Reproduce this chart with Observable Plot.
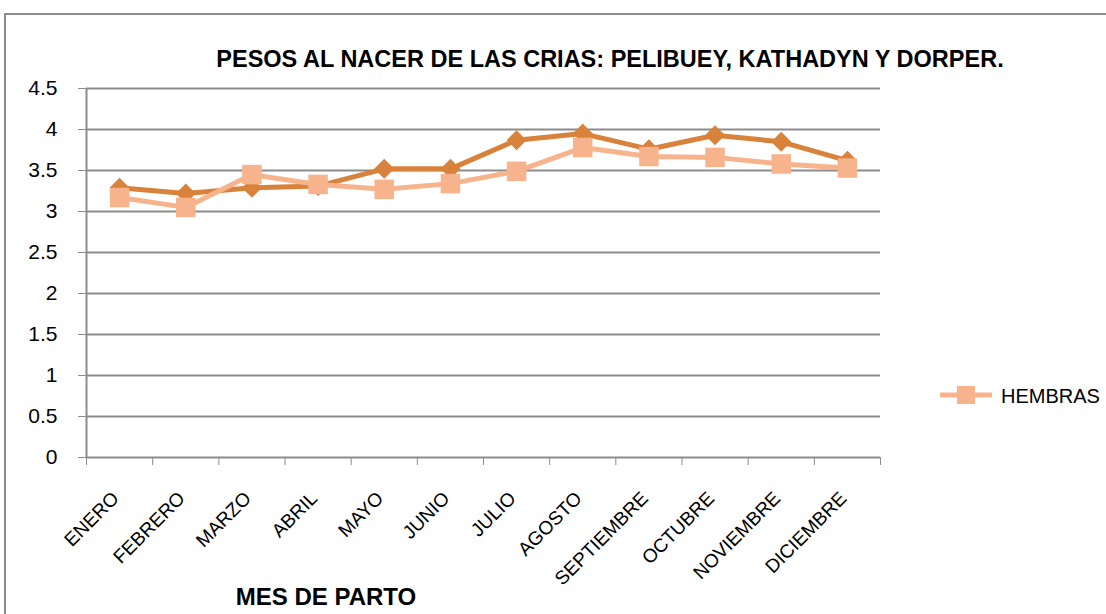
<!DOCTYPE html>
<html><head><meta charset="utf-8">
<script src="https://cdn.jsdelivr.net/npm/d3@7"></script>
<script src="https://cdn.jsdelivr.net/npm/@observablehq/plot@0.6"></script>
<style>
body{margin:0;background:#fff;}
#wrap{position:relative;width:1106px;height:614px;overflow:hidden;font-family:"Liberation Sans",Arial,sans-serif;}
#frame{position:absolute;left:4px;top:13px;width:1200px;height:700px;border:2px solid #8c8c8c;box-sizing:border-box;}
#title{position:absolute;left:0;width:1220px;top:46px;text-align:center;font-weight:bold;font-size:23.5px;color:#000;}
#xlabel{position:absolute;left:176px;width:300px;top:583px;text-align:center;font-weight:bold;font-size:24px;}
#legend{position:absolute;left:940px;top:382px;}
#chart{position:absolute;left:0;top:0;}
</style></head>
<body><div id="wrap"><div id="frame"></div><div id="chart"></div>
<div id="title">PESOS AL NACER DE LAS CRIAS: PELIBUEY, KATHADYN Y DORPER.</div>
<div id="xlabel">MES DE PARTO</div>
<div id="legend"></div></div>
<script>
const months = ["ENERO","FEBRERO","MARZO","ABRIL","MAYO","JUNIO","JULIO","AGOSTO","SEPTIEMBRE","OCTUBRE","NOVIEMBRE","DICIEMBRE"];
const machos = [3.29,3.22,3.29,3.31,3.52,3.52,3.87,3.95,3.76,3.93,3.85,3.62];
const hembras = [3.17,3.05,3.45,3.33,3.27,3.34,3.49,3.78,3.67,3.66,3.58,3.53];
const yTicks = [0,0.5,1,1.5,2,2.5,3,3.5,4,4.5];
const darkColor = "#d9823b", lightColor = "#f7b48c";

const dataM = months.map((m,i)=>({i, v: machos[i]}));
const dataH = months.map((m,i)=>({i, v: hembras[i]}));

const chart = Plot.plot({
  width: 1106, height: 614,
  marginLeft: 86, marginRight: 226, marginTop: 88, marginBottom: 157,
  style: {fontFamily: '"Liberation Sans",Arial,sans-serif', background: "transparent"},
  x: {type: "linear", domain: [-0.5, 11.5]},
  y: {domain: [0, 4.5]},
  marks: [
    Plot.ruleY(yTicks, {stroke: "#8c8c8c", strokeWidth: 2}),
    Plot.ruleX([-0.5], {stroke: "#8c8c8c", strokeWidth: 2}),
    Plot.axisY(yTicks, {tickSize: 8, tickPadding: 21, textAnchor: "end", fontSize: 21, stroke: "#8c8c8c", color: "#000", label: null, tickFormat: d => String(d)}),
    Plot.axisX(d3.range(13).map(i => i - 0.5), {tickSize: 8, tickFormat: () => "", stroke: "#8c8c8c", label: null}),
    Plot.axisX(d3.range(12), {tickSize: 0, tickFormat: i => months[i], tickRotate: -45, textAnchor: "end", fontSize: 19, dx: -4, dy: 26, label: null}),
    Plot.line(dataM, {x: "i", y: "v", stroke: darkColor, strokeWidth: 5}),
    Plot.dot(dataM, {x: "i", y: "v", symbol: "diamond2", r: 9, fill: darkColor, stroke: null}),
    Plot.line(dataH, {x: "i", y: "v", stroke: lightColor, strokeWidth: 5}),
    Plot.dot(dataH, {x: "i", y: "v", symbol: "square", r: 11, fill: lightColor, stroke: null})
  ]
});
document.getElementById("chart").appendChild(chart);

const leg = d3.select("#legend").append("svg").attr("width", 170).attr("height", 30);
leg.append("line").attr("x1", 0).attr("x2", 52).attr("y1", 13).attr("y2", 13).attr("stroke", lightColor).attr("stroke-width", 5);
leg.append("rect").attr("x", 17).attr("y", 4).attr("width", 18).attr("height", 18).attr("fill", lightColor);
leg.append("text").attr("x", 61).attr("y", 21).attr("font-size", 20).attr("font-family", '"Liberation Sans",Arial,sans-serif').text("HEMBRAS");
</script></body></html>
